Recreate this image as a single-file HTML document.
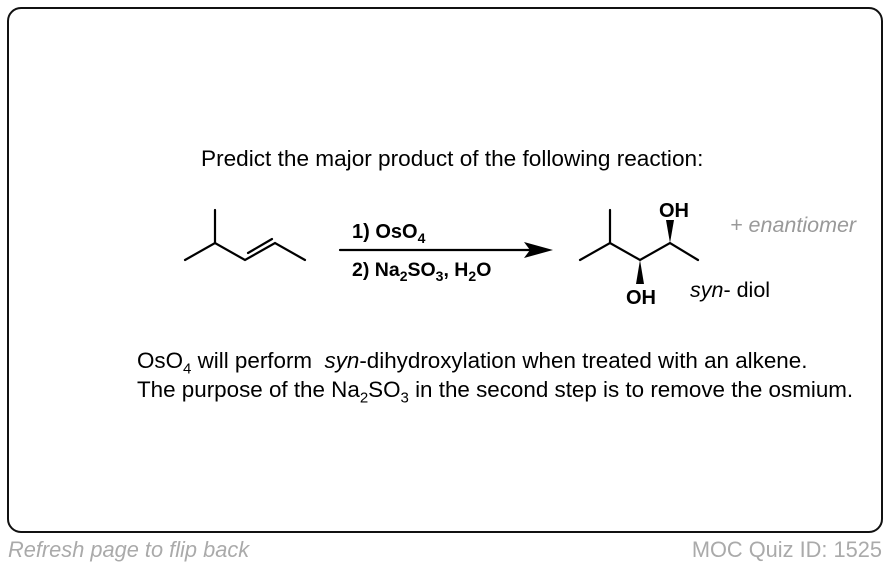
<!DOCTYPE html>
<html><head><style>
html,body{margin:0;padding:0;background:#fff;}
body{width:890px;height:566px;position:relative;overflow:hidden;font-family:"Liberation Sans",Arial,sans-serif;}
.card{position:absolute;left:7px;top:7px;width:872px;height:522px;border:2px solid #111;border-radius:14px;}
.t{position:absolute;white-space:nowrap;color:#000;}
</style></head><body>
<div class="card"></div>
<div class="t" style="left:201px;top:146px;font-size:22.6px;">Predict the major product of the following reaction:</div>
<svg width="890" height="566" style="position:absolute;left:0;top:0">
<g stroke="#000" stroke-width="2.2" fill="none" stroke-linecap="round">
<polyline points="185,260 215,243 245,260 275,243 305,260"/>
<line x1="215" y1="243" x2="215" y2="210"/>
<line x1="248" y1="253" x2="272" y2="239"/>
<line x1="340" y1="250" x2="530" y2="250"/>
<polyline points="580,260 610,243 640,260 670,243 698,260"/>
<line x1="610" y1="243" x2="610" y2="210"/>
</g>
<polygon points="524,242 553,250 524,258 530,250" fill="#000"/>
<polygon points="640,260 636,284 644,284" fill="#000"/>
<polygon points="670,243 666,220 674,220" fill="#000"/>
<g font-family="Liberation Sans, Arial, sans-serif" font-weight="bold" font-size="19.5">
<text x="352" y="238" font-size="20">1) OsO<tspan font-size="14" dy="5">4</tspan></text>
<text x="352" y="276">2) Na<tspan font-size="14" dy="5">2</tspan><tspan dy="-5">SO</tspan><tspan font-size="14" dy="5">3</tspan><tspan dy="-5">, H</tspan><tspan font-size="14" dy="5">2</tspan><tspan dy="-5">O</tspan></text>
<text x="659" y="217" font-size="20">OH</text>
<text x="626" y="304" font-size="20">OH</text>
</g>
<text x="730" y="232" font-family="Liberation Sans, Arial, sans-serif" font-style="italic" font-size="21.5" fill="#999">+ enantiomer</text>
<text x="690" y="297" font-family="Liberation Sans, Arial, sans-serif" font-size="21.5"><tspan font-style="italic">syn</tspan>- diol</text>
</svg>
<div class="t" style="left:137px;top:346px;font-size:22.4px;line-height:29px;">OsO<sub style="font-size:15px;line-height:0">4</sub> will perform &nbsp;<i>syn</i>-dihydroxylation when treated with an alkene.<br>The purpose of the Na<sub style="font-size:15px;line-height:0">2</sub>SO<sub style="font-size:15px;line-height:0">3</sub> in the second step is to remove the osmium.</div>
<div class="t" style="left:8px;top:537px;font-size:21.8px;font-style:italic;color:#aaa;">Refresh page to flip back</div>
<div class="t" style="right:8px;top:537px;font-size:21.8px;color:#aaa;">MOC Quiz ID: 1525</div>
</body></html>
